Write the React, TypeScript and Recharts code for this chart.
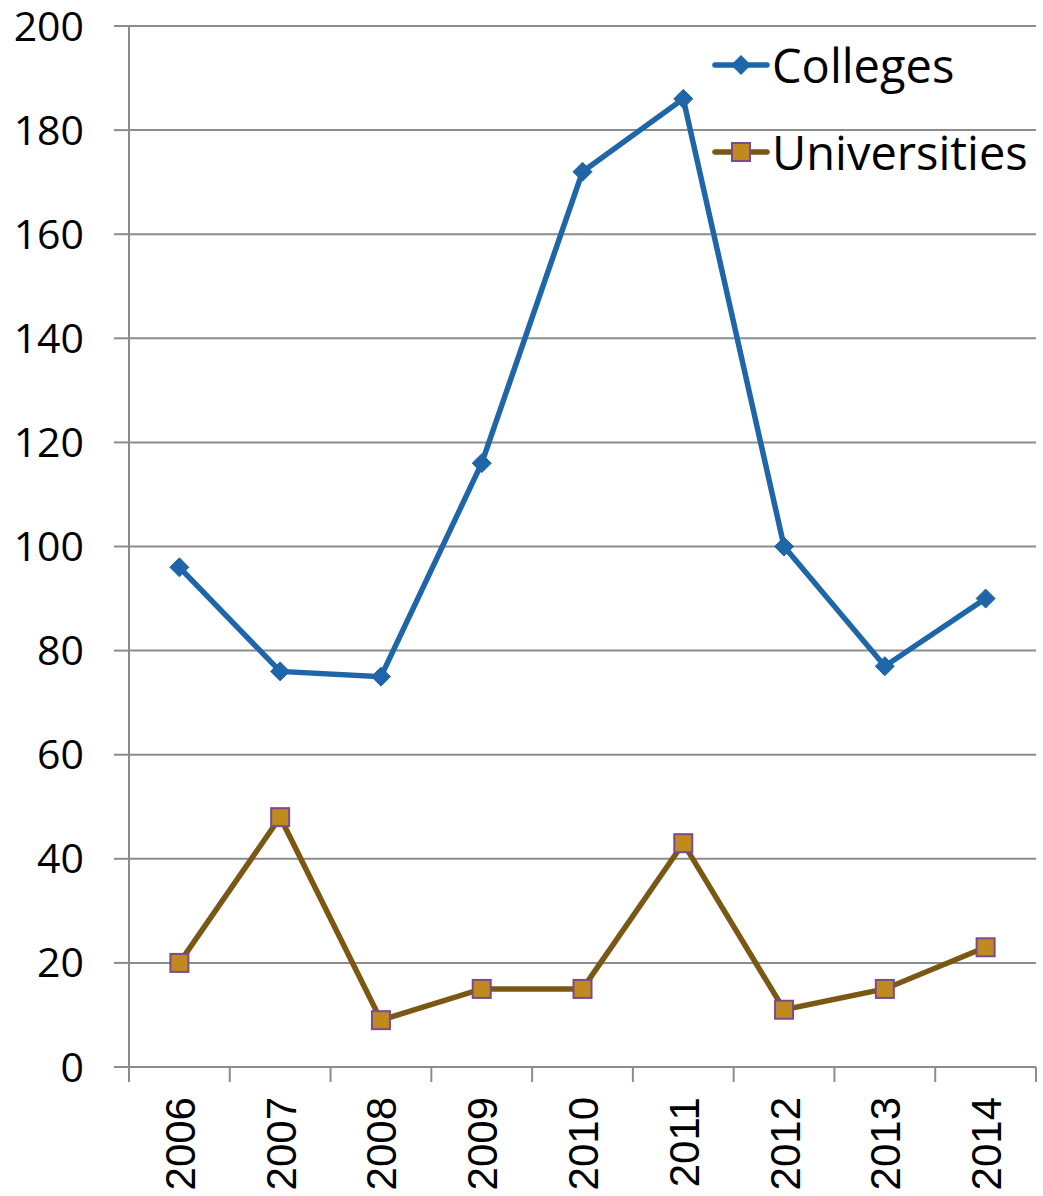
import { LineChart, Line, XAxis, YAxis, CartesianGrid, Legend } from 'recharts';

const years = ['2006', '2007', '2008', '2009', '2010', '2011', '2012', '2013', '2014'];
const colleges = [96, 76, 75, 116, 172, 186, 100, 77, 90];
const universities = [20, 48, 9, 15, 15, 43, 11, 15, 23];
const yTicks = [0, 20, 40, 60, 80, 100, 120, 140, 160, 180, 200];

const data = years.map((y, i) => ({ year: y, colleges: colleges[i], universities: universities[i] }));

const BLUE = '#1F66A8';
const BROWN = '#7B5714';
const GOLD = '#BF8A1E';
const PURPLE = '#7D4A8E';
const GRID = '#8C8C8C';
const W = 1043;
const H = 1196;
const M = { top: 26, right: 7, left: 0, bottom: 0 };
const Y_W = 129;
const X_H = 129;

const Diamond = (p: any) => {
  const { cx, cy } = p;
  if (cx == null || cy == null) return null;
  const r = 9.5;
  return <path d={`M${cx},${cy - r}L${cx + r},${cy}L${cx},${cy + r}L${cx - r},${cy}Z`} fill={BLUE} stroke={BLUE} strokeWidth={1} />;
};

const Square = (p: any) => {
  const { cx, cy } = p;
  if (cx == null || cy == null) return null;
  const s = 18;
  return <rect x={cx - s / 2} y={cy - s / 2} width={s} height={s} fill={GOLD} stroke={PURPLE} strokeWidth={2} />;
};

const plotW = W - Y_W - M.left - M.right;
const band = plotW / years.length;

const XTick = (p: any) => {
  const { x, y, payload, index } = p;
  const left = x - band / 2;
  return (
    <g>
      <line x1={left} y1={y - 8} x2={left} y2={y + 7} stroke={GRID} strokeWidth={2} />
      {index === years.length - 1 && (
        <line x1={x + band / 2} y1={y - 8} x2={x + band / 2} y2={y + 7} stroke={GRID} strokeWidth={2} />
      )}
      <text x={x + 1} y={y + 22} transform={`rotate(-90, ${x + 1}, ${y + 22})`} textAnchor="end" dominantBaseline="central"
        fontFamily="Liberation Sans, Arial, sans-serif" fontSize={42} fill="#000">{payload.value}</text>
    </g>
  );
};

const LegendBox = (props: any) => {
  const items = props.payload || [];
  return (
    <div style={{ display: 'flex', flexDirection: 'column', gap: 37 }}>
      {items.map((it: any) => {
        const isCol = it.dataKey === 'colleges';
        return (
          <div key={it.dataKey} style={{ display: 'flex', alignItems: 'center', height: 50 }}>
            <svg width={58} height={30} style={{ marginRight: 2 }}>
              <line x1={3} y1={15} x2={55} y2={15} stroke={isCol ? BLUE : BROWN} strokeWidth={5.5} strokeLinecap="round" />
              {isCol ? <Diamond cx={29} cy={15} /> : <Square cx={29} cy={15} />}
            </svg>
            <span style={{ fontFamily: 'Open Sans, sans-serif', fontSize: 47, color: '#000', lineHeight: '50px' }}>{it.value}</span>
          </div>
        );
      })}
    </div>
  );
};

export default function App() {
  return (
    <div style={{ position: 'absolute', left: 0, top: 0, width: W, height: H, background: '#fff', overflow: 'hidden' }}>
      <LineChart width={W} height={H} data={data} margin={M}>
        <CartesianGrid vertical={false} stroke={GRID} strokeWidth={2} />
        <XAxis dataKey="year" height={X_H} axisLine={{ stroke: GRID, strokeWidth: 2 }} tickLine={false}
          tick={<XTick />} interval={0} padding={{ left: band / 2, right: band / 2 }} />
        <YAxis width={Y_W} domain={[0, 200]} ticks={yTicks} interval={0} tickSize={15}
          axisLine={{ stroke: GRID, strokeWidth: 2 }} tickLine={{ stroke: GRID, strokeWidth: 2 }}
          tick={{ fontFamily: 'Open Sans, sans-serif', fontSize: 41, fill: '#000' }} tickMargin={30} />
        <Legend layout="vertical" align="center" verticalAlign="middle" content={<LegendBox />}
          wrapperStyle={{ left: 712, top: 40, width: 330 }} />
        <Line dataKey="colleges" name="Colleges" stroke={BLUE} strokeWidth={5.5} dot={<Diamond />} activeDot={false}
          isAnimationActive={false} />
        <Line dataKey="universities" name="Universities" stroke={BROWN} strokeWidth={5.5} dot={<Square />} activeDot={false}
          isAnimationActive={false} />
      </LineChart>
    </div>
  );
}
